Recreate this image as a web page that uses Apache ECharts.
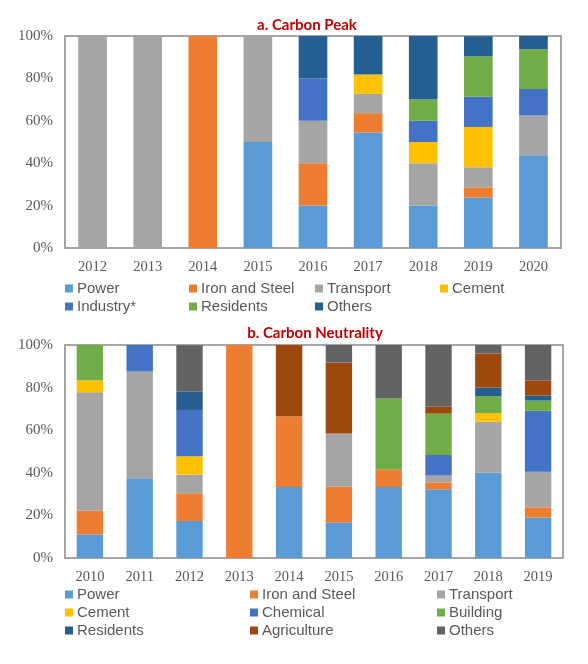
<!DOCTYPE html>
<html><head><meta charset="utf-8">
<script src="https://cdn.jsdelivr.net/npm/echarts@6/dist/echarts.min.js"></script>
<style>html,body{margin:0;padding:0;background:#fff}#c{width:588px;height:664px}</style>
</head><body><div id="c"></div>
<script>
const peakYears = ['2012','2013','2014','2015','2016','2017','2018','2019','2020'];
const peakPower     = [0,0,0,50,20,54.5,20,23.8,43.75];
const peakIron      = [0,0,100,0,20,9.1,0,4.8,0];
const peakTransport = [100,100,0,50,20,9.1,20,9.5,18.75];
const peakCement    = [0,0,0,0,0,9.1,10,19.0,0];
const peakIndustry  = [0,0,0,0,20,0,10,14.3,12.5];
const peakResidents = [0,0,0,0,0,0,10,19.0,18.75];
const peakOthers    = [0,0,0,0,20,18.2,30,9.5,6.25];

const neuYears = ['2010','2011','2012','2013','2014','2015','2016','2017','2018','2019'];
const neuPower       = [11.1,37.5,17.4,0,33.3,16.7,33.3,32.3,40,19.0];
const neuIron        = [11.1,0,13.0,100,33.3,16.7,8.3,3.2,0,4.8];
const neuTransport   = [55.6,50,8.7,0,0,25,0,3.2,24,16.7];
const neuCement      = [5.6,0,8.7,0,0,0,0,0,4,0];
const neuChemical    = [0,12.5,21.7,0,0,0,0,9.7,0,28.6];
const neuBuilding    = [16.7,0,0,0,0,0,33.3,19.4,8,4.8];
const neuResidents   = [0,0,8.7,0,0,0,0,0,4,2.4];
const neuAgriculture = [0,0,0,0,33.4,33.3,0,3.2,16,7.1];
const neuOthers      = [0,0,21.7,0,0,8.3,25.1,29.0,4,16.6];

const yTicks = [0,20,40,60,80,100];

const C = {power:'#5b9bd5', iron:'#ed7d31', transport:'#a5a5a5', cement:'#ffc000',
  blue:'#4472c4', green:'#70ad47', dark:'#255e91', agri:'#9e480e', others:'#636363'};

const peakSeries = [
  ['Power', peakPower, C.power], ['Iron and Steel', peakIron, C.iron], ['Transport', peakTransport, C.transport],
  ['Cement', peakCement, C.cement], ['Industry*', peakIndustry, C.blue], ['Residents', peakResidents, C.green],
  ['Others', peakOthers, C.dark]
];
const neuSeries = [
  ['Power', neuPower, C.power], ['Iron and Steel', neuIron, C.iron], ['Transport', neuTransport, C.transport],
  ['Cement', neuCement, C.cement], ['Chemical', neuChemical, C.blue], ['Building', neuBuilding, C.green],
  ['Residents ', neuResidents, C.dark], ['Agriculture', neuAgriculture, C.agri], ['Others ', neuOthers, C.others]
];

const series = [];
peakSeries.forEach(s => series.push({type:'bar', name:s[0], data:s[1], stack:'a', xAxisIndex:0, yAxisIndex:0,
  barWidth:'52%', itemStyle:{color:s[2]}, animation:false}));
neuSeries.forEach(s => series.push({type:'bar', name:s[0], data:s[1], stack:'b', xAxisIndex:1, yAxisIndex:1,
  barWidth:'53%', itemStyle:{color:s[2]}, animation:false}));

const axisLabelX = {color:'#595959', fontFamily:'Liberation Serif', fontSize:14.5, margin:12};
const axisLabelY = {color:'#595959', fontFamily:'Liberation Serif', fontSize:15, margin:12, formatter:'{value}%'};

function legendCol(names, left, top) {
  return {orient:'vertical', left:left, top:top, itemGap:3, itemWidth:8, itemHeight:8, icon:'rect',
    selectedMode:false, padding:0,
    textStyle:{color:'#595959', fontFamily:'Liberation Sans', fontSize:15, padding:[0,0,0,-1]},
    data:names};
}

const option = {
  backgroundColor:'#fff',
  title:[
    {text:'a. Carbon Peak', left:307, textAlign:'center', top:18, padding:0,
      textStyle:{color:'#c00000', fontFamily:'Lato', fontWeight:'bold', fontSize:15}},
    {text:'b. Carbon Neutrality', left:315, textAlign:'center', top:326, padding:0,
      textStyle:{color:'#c00000', fontFamily:'Lato', fontWeight:'bold', fontSize:15}}
  ],
  grid:[
    {left:65, right:27, top:36, height:212, show:true, borderColor:'#a6a6a6', borderWidth:2},
    {left:65, right:25, top:345, height:213, show:true, borderColor:'#a6a6a6', borderWidth:2}
  ],
  xAxis:[
    {type:'category', gridIndex:0, data:peakYears, axisTick:{show:false},
      axisLine:{lineStyle:{color:'#a6a6a6', width:2}}, axisLabel:axisLabelX},
    {type:'category', gridIndex:1, data:neuYears, axisTick:{show:false},
      axisLine:{lineStyle:{color:'#a6a6a6', width:2}}, axisLabel:axisLabelX}
  ],
  yAxis:[
    {type:'value', gridIndex:0, min:yTicks[0], max:yTicks[yTicks.length-1], interval:20, splitLine:{show:false},
      axisLine:{show:true, lineStyle:{color:'#a6a6a6', width:2}}, axisTick:{show:false}, axisLabel:axisLabelY},
    {type:'value', gridIndex:1, min:yTicks[0], max:yTicks[yTicks.length-1], interval:20, splitLine:{show:false},
      axisLine:{show:true, lineStyle:{color:'#a6a6a6', width:2}}, axisTick:{show:false}, axisLabel:axisLabelY}
  ],
  legend:[
    legendCol(['Power','Industry*'], 65, 281),
    legendCol(['Iron and Steel','Residents'], 189, 281),
    legendCol(['Transport','Others'], 315, 281),
    legendCol(['Cement'], 440, 281),
    legendCol(['Power','Cement','Residents '], 65, 587),
    legendCol(['Iron and Steel','Chemical','Agriculture'], 250, 587),
    legendCol(['Transport','Building','Others '], 437, 587)
  ],
  series:series
};
const chart = echarts.init(document.getElementById('c'), null, {renderer:'canvas'});
chart.setOption(option);
</script></body></html>
